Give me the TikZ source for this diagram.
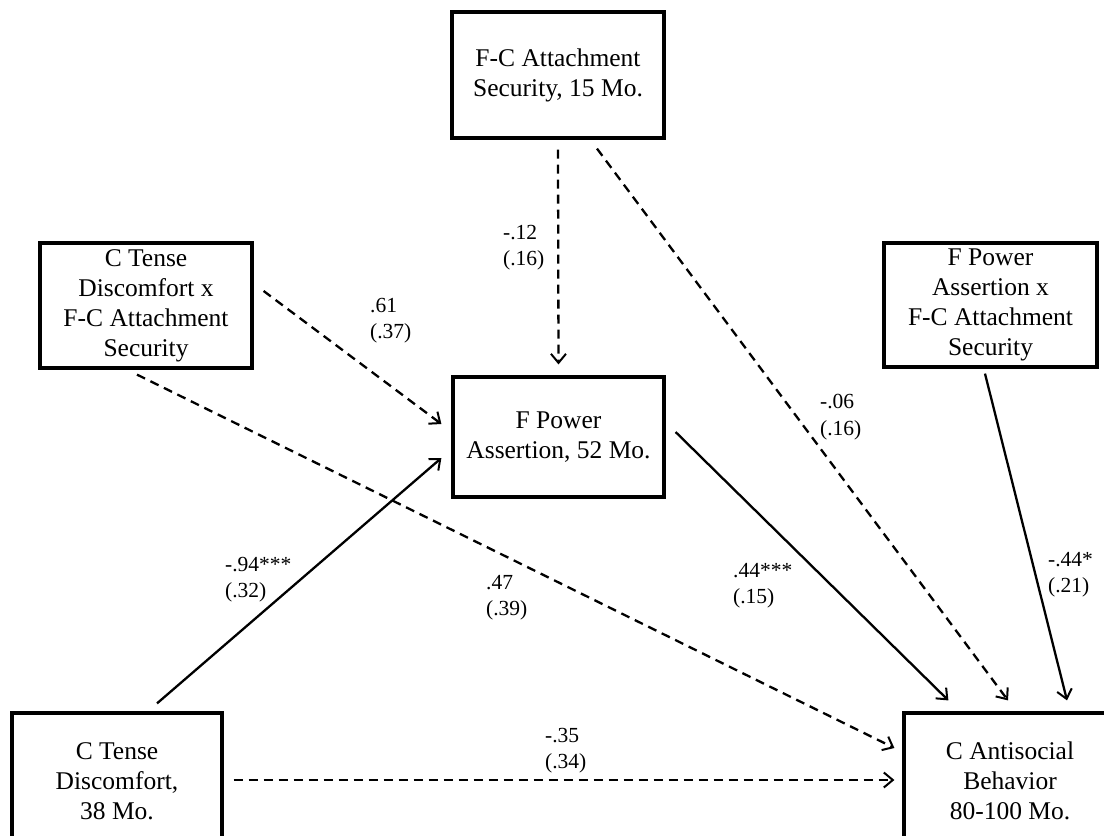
\documentclass[tikz,border=0pt]{standalone}
\usepackage{fontspec}
\setmainfont{Liberation Serif}
\usetikzlibrary{arrows.meta}
\begin{document}
\begin{tikzpicture}[x=1pt,y=-1pt,
 box/.style={draw, line width=3.2pt, align=center, font=\fontsize{25.5}{30}\selectfont, inner sep=0pt},
 lab/.style={align=left, font=\fontsize{21.5}{26.5}\selectfont, inner sep=0pt, anchor=north west},
 arr/.style={line width=2.3pt, -{Straight Barb[length=9pt,width=15pt,line width=2pt]}},
 dsh/.style={arr, dash pattern=on 9pt off 6pt}]
\useasboundingbox (0,0) rectangle (1104,836);
\fill[white] (0,0) rectangle (1104,836);
\begin{scope}
\clip (0,0) rectangle (1104,836);
\node[box, minimum width=212pt, minimum height=126pt] (top) at (558,75) {F-C Attachment\\Security, 15 Mo.};
\node[box, minimum width=212pt, minimum height=125pt] (lm) at (146,305.5) {C Tense\\Discomfort x\\F-C Attachment\\Security};
\node[box, minimum width=213pt, minimum height=124pt] (rm) at (990.5,305) {F Power\\Assertion x\\F-C Attachment\\Security};
\node[box, minimum width=211pt, minimum height=120pt] (ctr) at (558.5,437) {F Power\\Assertion, 52 Mo.};
\node[box, minimum width=210pt, minimum height=136pt] (bl) at (117,781) {C Tense\\Discomfort,\\38 Mo.};
\node[box, minimum width=212pt, minimum height=136pt] (br) at (1010,781) {C Antisocial\\Behavior\\80-100 Mo.};
\end{scope}

\draw[dsh] ([yshift=-10pt]top.south) -- ([yshift=11pt]ctr.north);
\draw[dsh] ([xshift=39pt,yshift=-9pt]top.south) -- ([xshift=-2pt,yshift=11pt]br.north);
\draw[arr] ([xshift=-5.5pt,yshift=-5pt]rm.south) -- ([xshift=57pt,yshift=11pt]br.north);
\draw[arr] ([xshift=10pt,yshift=5pt]ctr.east) -- ([xshift=46pt,yshift=11pt]br.north west);
\draw[dsh] ([xshift=10pt,yshift=14.5pt]lm.east) -- ([xshift=-10pt,yshift=13pt]ctr.west);
\draw[dsh] ([xshift=-9pt,yshift=-5pt]lm.south) -- ([xshift=-8pt,yshift=33pt]br.west);
\draw[arr] ([xshift=40pt,yshift=8pt]bl.north) -- ([xshift=-10pt,yshift=-21pt]ctr.west);
\draw[dsh] ([xshift=10pt,yshift=1pt]bl.east) -- ([xshift=-8pt,yshift=1pt]br.west);

\node[lab] (l1) at (503,225) {-.12\\(.16)};
\node[lab] (l2) at (370,298) {.61\\(.37)};
\node[lab] (l3) at (820,394) {-.06\\(.16)};
\node[lab] (l4) at (225,557) {-.94***\\(.32)};
\node[lab] (l5) at (486,575) {.47\\(.39)};
\node[lab] (l6) at (733,563) {.44***\\(.15)};
\node[lab] (l7) at (1048,552) {-.44*\\(.21)};
\node[lab] (l8) at (545,728) {-.35\\(.34)};
\end{tikzpicture}
\end{document}
